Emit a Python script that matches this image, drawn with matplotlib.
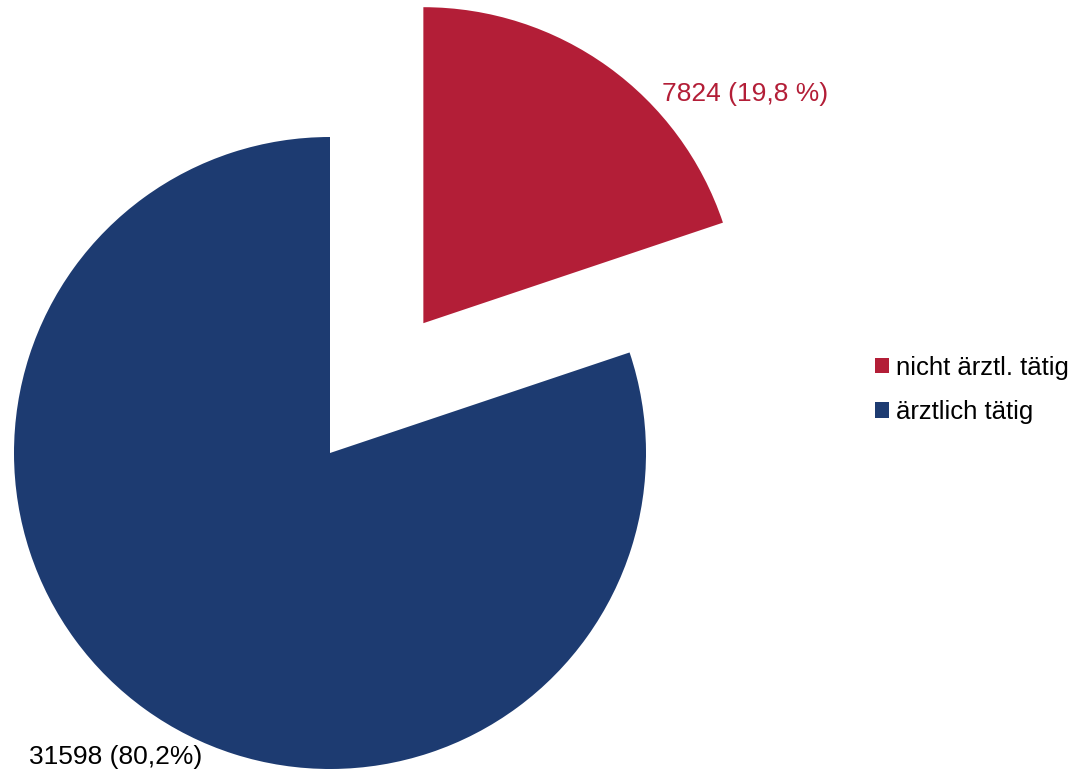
import matplotlib
matplotlib.use("Agg")
import matplotlib.pyplot as plt
from matplotlib.patches import Patch

plt.rcParams['font.family'] = ['Liberation Sans', 'DejaVu Sans']

categories = ["nicht ärztl. tätig", "ärztlich tätig"]
values = [7824, 31598]
value_labels = ["7824 (19,8 %)", "31598 (80,2%)"]
colors = ["#B31E37", "#1D3B71"]

W, H = 1080, 773
fig = plt.figure(figsize=(W / 100, H / 100), dpi=100)
ax = fig.add_axes([0, 0, 1, 1])

cx, cy, r = 330, H - 453, 316
wedges, _ = ax.pie(values, colors=colors, startangle=90, counterclock=False,
                   explode=[0.506 * r, 0], center=(cx, cy), radius=r,
                   wedgeprops=dict(linewidth=0), frame=True)
ax.set_xlim(0, W)
ax.set_ylim(0, H)
ax.set_aspect('equal')
ax.axis('off')

ax.text(662, H - 94, value_labels[0], color=colors[0], fontsize=19,
        ha='left', va='center')
ax.text(29, H - 757, value_labels[1], color='black', fontsize=19,
        ha='left', va='center')

handles = [Patch(facecolor=c, edgecolor='none') for c in colors]
ax.legend(handles, categories, loc='center left',
          bbox_to_anchor=(875 / W, 1 - 390 / H), frameon=False,
          fontsize=18.5, handlelength=0.55, handleheight=0.55,
          handletextpad=0.28, labelspacing=0.8, borderpad=0,
          borderaxespad=0)

fig.savefig("out.png", dpi=100)
